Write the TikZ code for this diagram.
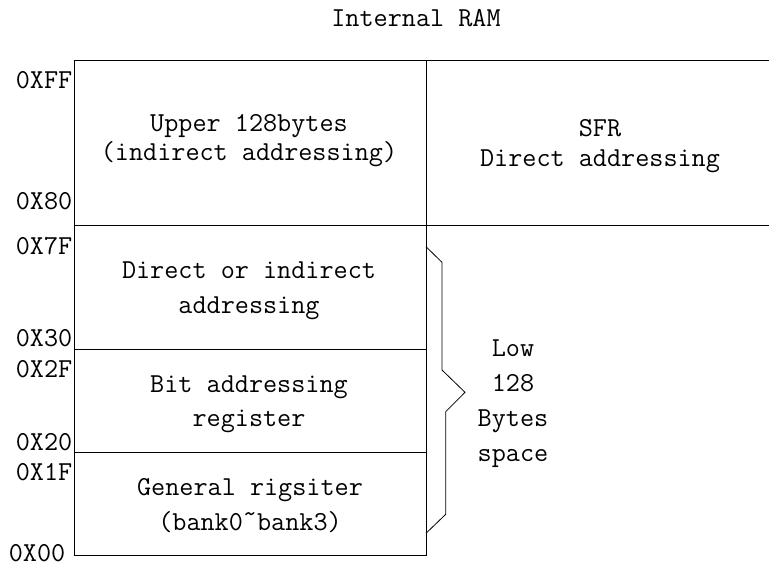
\documentclass[tikz,border=0pt]{standalone}
\usepackage{fontspec}
\newcommand\labfont{\ttfamily\fontsize{27.4}{34}\selectfont}
\tikzset{
  mem/.style={draw, line width=0.9pt, inner sep=0pt, outer sep=0pt, minimum width=352pt},
  lbl/.style={font=\labfont, inner sep=0pt, anchor=base},
  addr/.style={font=\labfont, inner sep=0pt, anchor=base east},
  conn/.style={line width=0.9pt},
  bracel/.style={line width=0.8pt, line join=miter}
}
\begin{document}
\begin{tikzpicture}[x=1pt,y=-1pt]
\useasboundingbox (0,0) rectangle (769,569);
% memory blocks
\node[mem, minimum height=165pt] (upper)  at (250,142.5) {};
\node[mem, minimum height=124pt] (direct) at (250,287)   {};
\node[mem, minimum height=103pt] (bit)    at (250,400.5) {};
\node[mem, minimum height=103pt] (gen)    at (250,503.5) {};
% SFR area (open to the right)
\coordinate (sfrTR) at (769,60);
\coordinate (sfrBR) at (769,225);
\draw[conn] (upper.north east) -- (sfrTR);
\draw[conn] (upper.south east) -- (sfrBR);
% title
\node[lbl] (title) at (416,26.7) {Internal RAM};
% block texts
\node[lbl] (up1) at (249,131.7) {Upper 128bytes};
\node[lbl] (up2) at (249,160.5) {(indirect addressing)};
\node[lbl] (sfr1) at (600,136.7) {SFR};
\node[lbl] (sfr2) at (600,166.7) {Direct addressing};
\node[lbl] (di1) at (249,278.3) {Direct or indirect};
\node[lbl] (di2) at (249,313.3) {addressing};
\node[lbl] (bi1) at (249,392.3) {Bit addressing};
\node[lbl] (bi2) at (249,426.7) {register};
\node[lbl] (ge1) at (250,495) {General rigsiter};
\node[lbl] (ge2) at (250,530) {(bank0\raisebox{0.28em}{\textasciitilde}bank3)};
% addresses
\node[addr] (aFF) at (72.5,88.3)  {0XFF};
\node[addr] (a80) at (72.5,210)   {0X80};
\node[addr] (a7F) at (72.5,255)   {0X7F};
\node[addr] (a30) at (72.5,346.7) {0X30};
\node[addr] (a2F) at (72.5,377.3) {0X2F};
\node[addr] (a20) at (72.5,450)   {0X20};
\node[addr] (a1F) at (72.5,480)   {0X1F};
\node[addr] (a00) at (65.5,561.7) {0X00};
% brace
\coordinate (brTop) at (426,246.7);
\coordinate (brBot) at (426,533.3);
\draw[bracel] (brTop) -- (442,262.3) -- (442,370) -- (465,392.3)
  -- (445.7,411.7) -- (445.7,514.3) -- (brBot);
% low 128 bytes label
\node[lbl] (lo1) at (513,356.7) {Low};
\node[lbl] (lo2) at (513,391.7) {128};
\node[lbl] (lo3) at (513,426.7) {Bytes};
\node[lbl] (lo4) at (513,461)   {space};
\end{tikzpicture}
\end{document}
